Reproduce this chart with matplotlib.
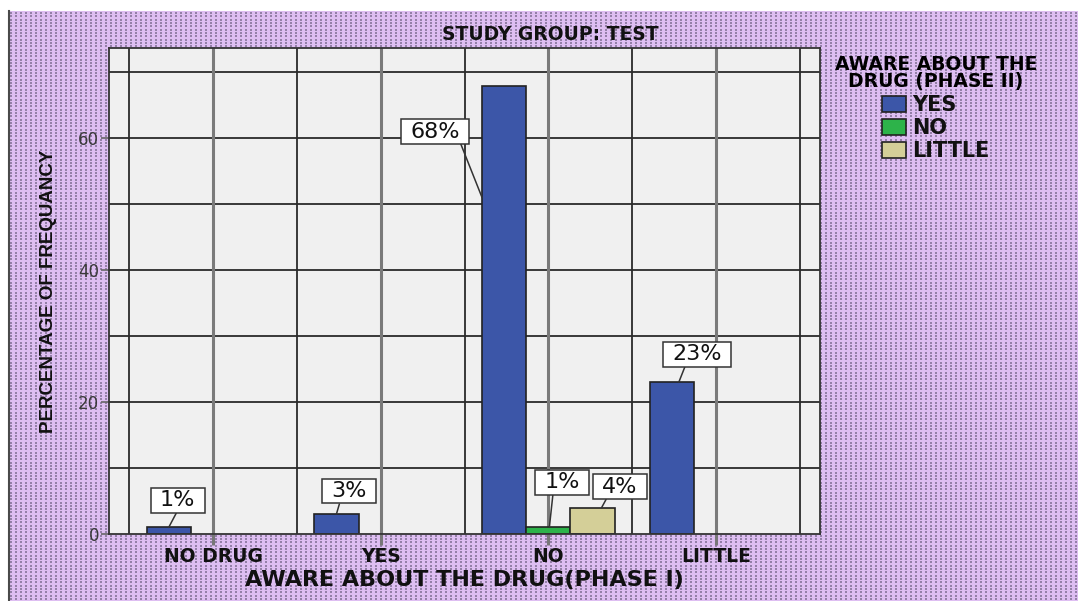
import numpy as np
import matplotlib
matplotlib.use("Agg")
import matplotlib.pyplot as plt
from matplotlib import font_manager, transforms
from matplotlib.patches import Patch
from matplotlib.lines import Line2D
from matplotlib.path import Path

# ---- data -------------------------------------------------------------
categories = ["NO DRUG", "YES", "NO", "LITTLE"]          # phase I awareness
series_names = ["YES", "NO", "LITTLE"]                    # phase II awareness
yes_pct = [1, 3, 68, 23]
no_pct = [0, 0, 1, 0]
little_pct = [0, 0, 4, 0]
y_ticks = [0, 20, 40, 60]

# ---- styling ----------------------------------------------------------
colors = ["#3c56a8", "#2db34a", "#d4cf98"]
bar_w = 0.264
bg_purple = np.array([222, 190, 242]) / 255.0
dot_col = np.array([148, 128, 168]) / 255.0

available = {f.name for f in font_manager.fontManager.ttflist}
narrow = "Liberation Sans Narrow" if "Liberation Sans Narrow" in available else None
bold_family = "DejaVu Sans"

W, H = 1078, 601
fig = plt.figure(figsize=(W / 100, H / 100), dpi=100)
fig.patch.set_facecolor("white")

# dotted lilac backdrop
bw, bh = 1070, 590
pattern = np.ones((bh, bw, 3)) * bg_purple
cols = np.arange(2, bw, 5)
rows = np.round(np.arange(1, bh, 3.33)).astype(int)
for c in cols:
    for r in rows:
        pattern[r:r + 2, c:c + 2] = dot_col
bg = fig.add_axes([8 / W, 0, bw / W, bh / H])
bg.imshow(pattern, aspect="auto", interpolation="bilinear")
bg.axis("off")
fig.add_artist(Line2D([8.5 / W, 8.5 / W], [0, bh / H], color="#4a4a4a", lw=1.5))

# ---- main axes --------------------------------------------------------
ax = fig.add_axes([109 / W, 67 / H, 711 / W, 486 / H])
ax.set_facecolor("#f0f0f0")
ax.set_xlim(-0.62, 3.62)
ax.set_ylim(0, 73.7)

for yv in range(10, 80, 10):
    ax.axhline(yv, color="#2a2a2a", lw=1.3, zorder=1)
for xv in np.arange(-0.5, 4.0, 0.5):
    if float(xv).is_integer():
        ax.axvline(xv, color="#7a7a7a", lw=2.2, zorder=1)
    else:
        ax.axvline(xv, color="#2a2a2a", lw=1.3, zorder=1)

x = np.arange(len(categories))
series = [yes_pct, no_pct, little_pct]
bars = []
for i, (vals, col) in enumerate(zip(series, colors)):
    vals = np.asarray(vals, dtype=float)
    mask = vals > 0
    xs = x + (i - 1) * bar_w
    ax.bar(xs[mask], vals[mask], width=bar_w, color=col,
           edgecolor="#222222", linewidth=1.2, zorder=3)
    bars.append((xs, vals))

for s in ax.spines.values():
    s.set_color("#333333")
    s.set_linewidth(1.3)
    s.set_zorder(4)

ax.set_yticks(y_ticks)
ax.set_yticklabels([str(v) for v in y_ticks], fontsize=12,
                   family="DejaVu Sans", color="#3a3a3a")
ax.tick_params(axis="y", length=6, width=1.2, color="#666666", pad=1)
ax.set_xticks(x)
ax.set_xticklabels(categories, fontsize=13.5, family=bold_family,
                   fontweight="bold", color="#111111")
ax.tick_params(axis="x", length=8, width=2.2, color="#777777", pad=1.5)

ax.set_xlabel("AWARE ABOUT THE DRUG(PHASE I)", fontsize=16,
              family=bold_family, fontweight="bold", color="#111111", labelpad=3)
if narrow:
    ax.set_ylabel("PERCENTAGE OF FREQUANCY", fontsize=16, family=narrow,
                  fontweight="bold", color="#111111", labelpad=14)
else:
    ax.set_ylabel("PERCENTAGE OF FREQUANCY", fontsize=13.5,
                  family="Liberation Sans", fontweight="bold",
                  color="#111111", labelpad=15)

fig.text(550 / W, 1 - 35 / H, "STUDY GROUP: TEST", ha="center", va="center",
         fontsize=13.5, family=bold_family, fontweight="bold", color="#111111")


# ---- value labels -------------------------------------------------------
def label_box(x0, y0, width, height, mutation_size):
    px, py = 0.42 * mutation_size, 0.1 * mutation_size
    x0, y0 = x0 - px, y0 - py
    x1, y1 = x0 + width + 2 * px, y0 + height + 2 * py
    return Path([(x0, y0), (x1, y0), (x1, y1), (x0, y1), (x0, y0)],
                [Path.MOVETO, Path.LINETO, Path.LINETO, Path.LINETO, Path.CLOSEPOLY])


# (series, category): anchor shift px, box offset px, leader attach point on box
label_layout = {
    (0, 0): ((0, 0), (9, 27), (0.5, 0)),
    (0, 1): ((0, 0), (13, 23), (0.24, 0)),
    (0, 2): ((-22, -112), (-47, 66), (1.0, 0)),
    (1, 2): ((1, 0), (13, 45), (0.24, 0)),
    (2, 2): ((9, 0), (18, 21), (0.16, 0)),
    (0, 3): ((7, 0), (18, 28), (0.28, 0)),
}

for (si, ci), (shift, off, rel) in label_layout.items():
    xs, vals = bars[si]
    v = vals[ci]
    anchor_tr = transforms.offset_copy(ax.transData, fig=fig, x=shift[0],
                                       y=shift[1], units="dots")
    ax.annotate(f"{v:.0f}%", xy=(xs[ci], v), xycoords=anchor_tr,
                xytext=off, textcoords="offset pixels",
                ha="center", va="center", fontsize=16,
                family="DejaVu Sans", color="#111111", zorder=6,
                bbox=dict(boxstyle=label_box, fc="white", ec="#333333", lw=1.1),
                arrowprops=dict(arrowstyle="-", color="#333333", lw=1.1,
                                relpos=rel, shrinkA=0, shrinkB=0),
                annotation_clip=False)

# ---- legend -----------------------------------------------------------
handles = [Patch(facecolor=c, edgecolor="#222222", linewidth=1.2) for c in colors]
leg = fig.legend(handles, series_names, loc="upper center",
                 bbox_to_anchor=(936 / W, 1 - 55 / H),
                 title="AWARE ABOUT THE\nDRUG (PHASE II)",
                 frameon=False, borderpad=0, borderaxespad=0,
                 handlelength=1.15, handleheight=0.8, handletextpad=0.3,
                 labelspacing=0.14,
                 prop=dict(family=bold_family, weight="bold", size=15),
                 title_fontproperties=dict(family=bold_family, weight="bold", size=13.5))
leg.get_title().set_multialignment("center")
leg.get_title().set_linespacing(0.88)
leg._legend_box.sep = 3
for t in leg.get_texts():
    t.set_color("#111111")

fig.savefig("out.png", dpi=100, facecolor=fig.get_facecolor())
